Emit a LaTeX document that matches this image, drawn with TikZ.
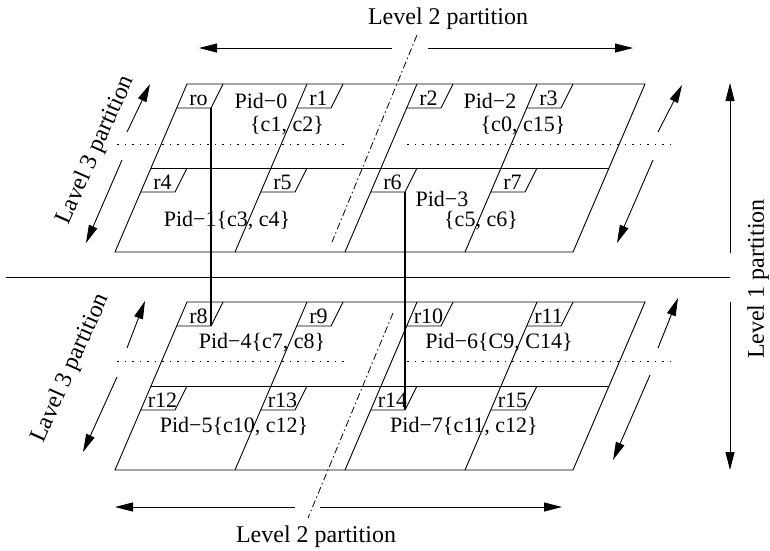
\documentclass[tikz,border=0pt]{standalone}
\usepackage{fontspec}
\setmainfont{Liberation Serif}
\usetikzlibrary{arrows.meta}
\begin{document}
\begin{tikzpicture}[x=1pt,y=-1pt,
  edge/.style={line width=0.9pt},
  thickln/.style={line width=2.2pt},
  dotln/.style={line width=0.9pt, dash pattern=on 1.5pt off 6pt},
  dashdot/.style={line width=0.8pt, dash pattern=on 7pt off 3pt on 1.5pt off 3pt},
  arr/.style={line width=0.9pt, -{Triangle[length=18pt,width=9pt]}},
  lbl/.style={inner sep=0pt, font=\fontsize{22}{26}\selectfont},
  biglbl/.style={inner sep=0pt, font=\fontsize{24}{28}\selectfont},
]
\useasboundingbox (0,0) rectangle (770,550);

% planes
\foreach \dy in {0,218}{
  \draw[edge] (187,84+\dy) -- (645,84+\dy) -- (573,252+\dy) -- (115,252+\dy) -- cycle;
  \draw[edge] (151,168+\dy) -- (609,168+\dy);
  \foreach \x in {307,417,537} \draw[edge] (\x,84+\dy) -- (\x-72,252+\dy);
}

% region label boxes
\foreach \x/\y/\t/\n in {187/84/ro/r0, 307/84/r1/r1, 417/84/r2/r2, 537/84/r3/r3,
  151/168/r4/r4, 271/168/r5/r5, 381/168/r6/r6, 501/168/r7/r7,
  187/302/r8/r8, 307/302/r9/r9, 417/302/r10/r10, 537/302/r11/r11,
  151/386/r12/r12, 271/386/r13/r13, 381/386/r14/r14, 501/386/r15/r15}{
  \draw[edge] (\x+36,\y) -- (\x+24,\y+24) -- (\x-10.3,\y+24);
  \node[lbl, anchor=base] (\n) at (\x+11.5,\y+21.5) {\t};
  \coordinate (\n br) at (\x+24,\y+24);
}

% thick links
\draw[thickln] (r0br) -- (r8br);
\draw[thickln] (r6br) -- (r14br);

% dotted lines
\foreach \y in {144,361}{
  \coordinate (d1\y) at (117,\y); \coordinate (d2\y) at (346,\y);
  \coordinate (d3\y) at (407,\y); \coordinate (d4\y) at (670,\y);
  \draw[dotln] (d1\y) -- (d2\y);
  \draw[dotln] (d3\y) -- (d4\y);
}

% dash-dot level 2 partition lines
\coordinate (dd1) at (417,35); \coordinate (dd2) at (332,242);
\coordinate (dd3) at (393,313); \coordinate (dd4) at (308,518);
\draw[dashdot] (dd1) -- (dd2);
\draw[dashdot] (dd3) -- (dd4);

% level 1 separator
\coordinate (h1) at (6,277); \coordinate (h2) at (730,277);
\draw[edge] (h1) -- (h2);

% pid labels
\node[lbl] (p0) at (261,101) {Pid−0};
\node[lbl] (p0c) at (287,126) {\{c1, c2\}};
\node[lbl] (p2) at (490,101) {Pid−2};
\node[lbl] (p2c) at (523,126) {\{c0, c15\}};
\node[lbl] (p1) at (227,221) {Pid−1\{c3, c4\}};
\node[lbl] (p3) at (442,199) {Pid−3};
\node[lbl] (p3c) at (481,221) {\{c5, c6\}};
\node[lbl] (p4) at (262,343) {Pid−4\{c7, c8\}};
\node[lbl] (p6) at (499,343) {Pid−6\{C9, C14\}};
\node[lbl] (p5) at (234,427) {Pid−5\{c10, c12\}};
\node[lbl] (p7) at (464,427) {Pid−7\{c11, c12\}};

% level 2 arrows
\coordinate (t1) at (392,48); \coordinate (t2) at (199,48);
\coordinate (t3) at (428,48); \coordinate (t4) at (633,48);
\draw[arr] (t1) -- (t2); \draw[arr] (t3) -- (t4);
\coordinate (b1) at (295,507); \coordinate (b2) at (115,507);
\coordinate (b3) at (320,507); \coordinate (b4) at (562,507);
\draw[arr] (b1) -- (b2); \draw[arr] (b3) -- (b4);
\node[biglbl, anchor=base] (l2t) at (448,24) {Level 2 partition};
\node[biglbl, anchor=base] (l2b) at (316,542) {Level 2 partition};

% level 1 arrows
\coordinate (v1) at (730,253); \coordinate (v2) at (730,83);
\coordinate (v3) at (730,302); \coordinate (v4) at (730,470);
\draw[arr] (v1) -- (v2); \draw[arr] (v3) -- (v4);
\node[biglbl, rotate=90] (l1) at (758,279) {Level 1 partition};

% level 3 arrows left
\coordinate (la1) at (127,132); \coordinate (la2) at (150,84);
\coordinate (la3) at (122,160); \coordinate (la4) at (86,243);
\coordinate (la5) at (127,348); \coordinate (la6) at (145,301);
\coordinate (la7) at (117,377); \coordinate (la8) at (83,452);
\draw[arr] (la1) -- (la2); \draw[arr] (la3) -- (la4);
\draw[arr] (la5) -- (la6); \draw[arr] (la7) -- (la8);
% level 3 arrows right
\coordinate (ra1) at (658,132); \coordinate (ra2) at (682,85);
\coordinate (ra3) at (653,160); \coordinate (ra4) at (617,243);
\coordinate (ra5) at (658,348); \coordinate (ra6) at (678,298);
\coordinate (ra7) at (650,375); \coordinate (ra8) at (613,460);
\draw[arr] (ra1) -- (ra2); \draw[arr] (ra3) -- (ra4);
\draw[arr] (ra5) -- (ra6); \draw[arr] (ra7) -- (ra8);

\node[biglbl, rotate=66] (l3t) at (96,150) {Lavel 3 partition};
\node[biglbl, rotate=66] (l3b) at (71,368) {Lavel 3 partition};
\end{tikzpicture}
\end{document}
